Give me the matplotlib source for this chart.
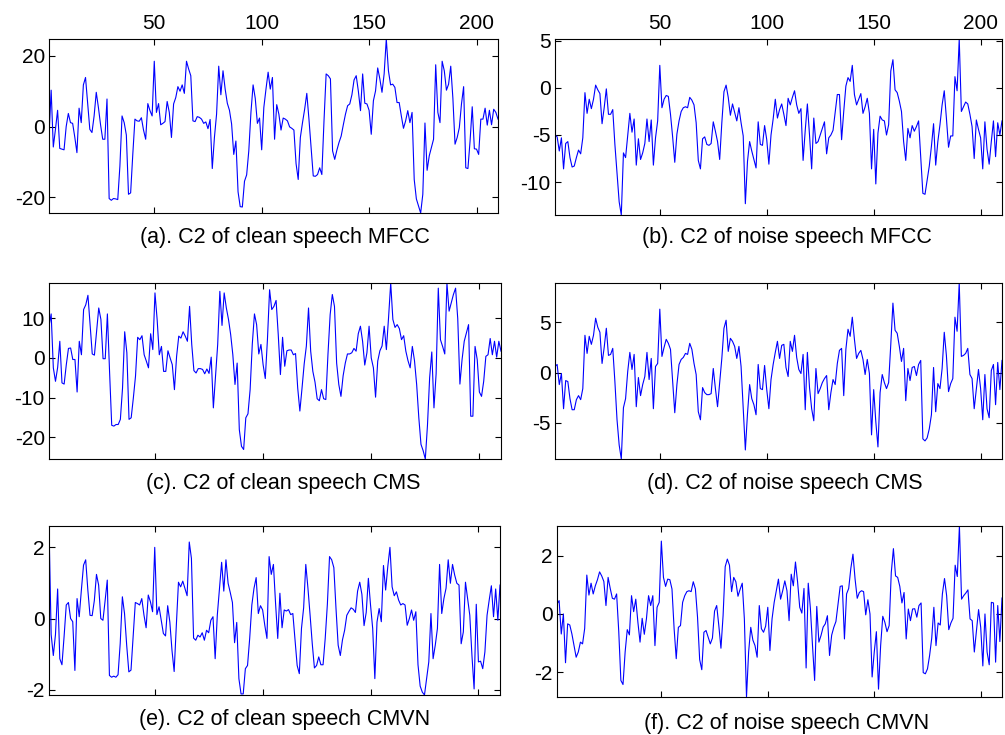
import numpy as np
import matplotlib
matplotlib.use("Agg")
import matplotlib.pyplot as plt

plt.rcParams['font.family'] = ['Liberation Sans', 'DejaVu Sans']
plt.rcParams['axes.unicode_minus'] = False

# second cepstral coefficient (C2) per frame
clean_mfcc = [
    -2.7, 10.3, -5.8, -0.8, 4.6, -6.2, -6.4, -6.6, 0.0, 3.7,
    1.1, 0.9, -3.0, -7.4, 5.2, 1.1, 11.8, 13.9, 6.4, -0.8,
    -1.7, 3.0, 9.7, 5.4, 0.5, -3.6, -3.6, 7.8, -20.4, -20.9,
    -20.4, -20.5, -20.7, -11.2, 3.0, 1.1, -2.4, -19.2, -18.8, -7.9,
    2.1, 1.6, 1.5, 2.5, -1.0, -3.6, 6.5, 4.5, 3.0, 18.5,
    4.0, 6.5, 0.5, 0.9, 1.4, 7.1, 4.0, -3.1, 6.4, 8.2,
    11.3, 10.0, 11.8, 9.4, 18.5, 16.3, 14.4, 1.6, 1.4, 2.8,
    2.6, 2.1, 0.9, 1.3, -0.6, 2.0, -11.9, -3.1, 3.5, 17.1,
    9.0, 15.8, 10.6, 6.6, 4.6, 0.7, -7.9, -4.1, -18.5, -22.7,
    -22.8, -15.5, -13.7, -6.9, 4.0, 11.8, 8.0, 0.9, 2.4, -6.6,
    5.4, 10.6, 15.4, 10.6, 13.9, -3.6, 6.2, 3.5, -1.0, 2.4,
    2.1, 1.6, -0.1, -0.5, -1.0, -10.5, -15.0, -3.1, 1.1, 4.9,
    9.4, 2.1, -6.0, -14.0, -14.1, -13.6, -11.7, -13.6, 1.5, 14.9,
    14.4, 13.5, -6.9, -9.3, -6.7, -4.5, -2.7, 0.5, 3.5, 5.9,
    6.4, 9.0, 13.2, 14.4, 10.0, 4.5, 14.9, 6.6, 6.4, 4.6,
    -2.2, 7.3, 10.1, 16.6, 13.5, 9.7, 14.9, 24.8, 15.8, 11.8,
    12.0, 11.1, 6.8, 6.8, 3.0, -0.5, 1.6, 4.5, 1.1, 4.0,
    -15.0, -20.5, -22.5, -24.5, -19.2, 1.0, -12.4, -8.3, -6.0, -3.6,
    17.5, 4.0, 1.1, 18.5, 15.8, 10.3, 12.0, 17.1, 8.0, -5.0,
    -3.1, -0.3, 6.4, 11.3, -11.7, -11.9, -4.1, 5.6, -6.3, -6.4,
    -7.9, 2.1, 2.1, 5.2, 0.4, 4.6, 0.5, 4.9, 4.0, 2.1,
]

noise_mfcc = [
    -5.0, -5.2, -6.7, -5.3, -8.6, -5.9, -5.7, -7.4, -8.4, -8.3,
    -7.4, -6.6, -7.0, -5.3, -0.5, -2.7, -1.2, -2.2, -1.2, 0.3,
    -0.2, -0.6, -3.8, -2.1, -0.1, -2.8, -2.8, -2.3, -6.0, -9.0,
    -12.1, -13.5, -6.9, -7.4, -5.0, -2.7, -4.7, -3.3, -8.2, -5.4,
    -7.6, -6.9, -5.9, -3.3, -5.7, -3.4, -8.2, -5.3, -3.5, 2.4,
    -2.1, -1.2, -0.8, -0.9, -2.8, -5.2, -7.9, -4.9, -3.5, -2.5,
    -2.1, -2.0, -2.1, -1.0, -1.3, -1.8, -3.7, -7.7, -8.6, -5.4,
    -5.2, -6.0, -6.1, -5.9, -3.6, -4.6, -5.7, -7.6, -3.7, -0.4,
    0.3, -1.0, -2.9, -1.7, -2.6, -3.5, -2.1, -3.7, -5.1, -12.3,
    -7.8, -5.7, -6.7, -7.6, -8.5, -3.6, -6.0, -6.1, -4.0, -5.5,
    -8.1, -5.0, -3.3, -1.2, -3.2, -2.3, -1.7, -2.8, -4.0, -1.1,
    -1.8, -1.0, -0.3, -1.8, -2.7, -2.2, -7.7, -4.5, -1.7, -5.0,
    -8.6, -3.2, -5.9, -5.7, -5.0, -4.3, -3.6, -7.0, -5.3, -5.0,
    -4.5, -2.6, -0.7, -0.7, -5.5, -2.5, 0.2, 1.1, 0.7, 2.4,
    -0.7, -1.8, -1.2, -0.6, -2.7, -2.0, -1.1, -2.7, -8.6, -4.4,
    -10.2, -4.8, -3.0, -3.4, -3.5, -5.0, -3.9, 1.8, 3.0, -0.2,
    -0.5, -1.4, -2.5, -5.7, -7.7, -4.3, -5.3, -4.0, -4.6, -4.1,
    -3.5, -7.4, -11.2, -11.3, -9.8, -8.3, -6.2, -3.8, -8.2, -5.7,
    -3.9, -1.8, -0.3, -3.2, -6.3, -5.1, -5.1, 1.2, -0.3, 5.2,
    -2.5, -2.0, -1.5, -1.7, -2.8, -4.1, -7.5, -3.4, -4.4, -5.3,
    -8.6, -3.6, -6.5, -8.1, -5.7, -3.5, -7.3, -3.7, -5.0, -3.5,
]

clean_cms = [
    8.0, 11.1, -2.5, -5.9, -2.4, 4.2, -6.3, -6.6, -1.7, 2.4,
    2.5, -0.4, -0.4, -8.6, 4.2, 0.8, 12.2, 13.4, 15.8, 8.4,
    1.0, 0.7, 6.7, 12.6, 9.7, -0.2, -0.2, 11.1, -3.4, -17.0,
    -17.2, -16.8, -16.8, -15.5, -7.6, 6.6, 1.3, -15.5, -15.1, -10.1,
    -4.6, 5.2, 4.6, 5.6, 0.8, -0.8, -2.5, 6.1, 2.1, 16.4,
    9.7, 0.8, 2.9, -3.4, -3.4, 1.8, 0.0, -1.7, -8.0, 0.4,
    5.5, 5.0, 6.6, 5.5, 4.2, 13.0, 3.4, -3.2, -3.8, -2.7,
    -2.7, -2.9, -4.0, -2.8, -3.9, 0.2, -12.6, -4.6, 3.4, 16.8,
    8.2, 16.4, 12.6, 9.7, 5.9, 0.8, -6.7, -1.3, -18.1, -22.3,
    -23.1, -15.1, -14.1, -8.0, 3.5, 11.1, 8.4, 1.0, 3.4, -1.7,
    -5.2, 4.6, 17.2, 12.2, 13.0, 14.5, 5.9, -4.2, 5.2, -2.1,
    1.8, 2.0, 2.0, 0.8, 1.1, -7.6, -13.4, -7.6, -1.5, 3.0,
    12.6, 1.7, -3.4, -6.1, -10.3, -10.8, -8.0, -10.3, -10.5, 1.0,
    10.9, 16.0, 13.0, -1.3, -6.7, -9.7, -4.5, -1.3, 1.0, 1.0,
    1.3, 2.4, 1.7, 6.1, 8.0, 4.2, -1.8, 1.3, 8.0, 0.0,
    -2.5, -9.9, -0.8, 1.8, 3.0, 8.0, 2.1, 10.1, 18.9, 9.7,
    7.7, 8.4, 7.4, 4.6, 5.6, 1.7, -0.7, -2.5, 2.9, -0.7,
    -6.7, -15.1, -21.8, -23.4, -25.5, -17.0, -5.0, 1.5, -12.6, -4.0,
    17.6, 4.6, 2.9, 1.0, 18.9, 11.8, 13.9, 16.0, 17.6, 9.9,
    -6.6, -0.4, 4.2, 6.3, 8.4, -14.7, -14.7, 2.9, -0.4, -8.6,
    -9.7, -5.9, 0.4, 0.8, 4.9, 0.8, 4.2, 0.2, 4.2, 1.7,
]

noise_cms = [
    0.6, 0.8, -1.2, -0.1, -3.6, -0.8, -0.9, -2.6, -3.7, -3.7,
    -2.7, -2.3, -2.7, -1.6, 3.7, 1.9, 3.6, 2.8, 3.7, 5.4,
    4.5, 4.0, 0.9, 2.5, 4.4, 1.7, 1.8, 2.4, -0.9, -4.7,
    -7.2, -8.6, -3.5, -2.6, 0.1, 2.0, 0.3, 1.8, -3.4, -0.5,
    -2.3, -1.2, -0.4, 2.0, -0.7, 1.4, -3.6, 0.6, 0.9, 6.3,
    1.6, 2.5, 3.3, 2.9, 2.3, -0.8, -4.0, -1.2, 0.8, 1.3,
    1.5, 1.9, 1.8, 2.9, 2.3, 0.9, -0.2, -3.9, -4.7, -1.5,
    -2.0, -2.2, -2.2, -2.1, 0.4, -1.6, -3.4, -1.0, 1.4, 4.4,
    5.2, 2.1, 3.4, 3.1, 2.6, 1.4, 2.6, 0.6, -3.6, -7.7,
    -4.1, -1.2, -2.6, -3.2, -4.2, 0.8, -1.6, -1.7, 0.7, -1.7,
    -3.6, -0.7, 0.8, 2.0, 3.1, 1.4, 2.7, 2.8, 0.5, -0.4,
    3.1, 2.1, 3.7, 1.5, 0.3, -0.1, 1.8, -3.7, 2.0, -1.5,
    -3.6, -4.8, 0.4, -2.1, -1.6, -1.0, -0.6, -0.3, -3.7, -2.0,
    -0.7, -1.2, 0.9, 2.2, 2.4, -2.3, 2.3, 4.3, 3.6, 5.5,
    3.3, 1.4, 1.9, 2.2, 1.3, -0.2, 1.3, -0.1, -6.2, -1.7,
    -4.9, -7.4, -2.0, -0.2, -1.0, -1.6, -1.0, 2.8, 6.9, 4.2,
    3.9, 2.6, 1.1, 2.4, -2.8, 0.4, -0.8, 0.5, 0.6, -0.3,
    0.8, 1.2, -6.6, -6.8, -6.5, -5.6, -4.2, 0.5, -3.9, -1.1,
    -1.6, 0.4, 4.0, 1.7, -1.9, -1.1, -0.6, 5.5, 4.1, 8.9,
    1.6, 1.7, 1.9, 2.4, -0.2, -0.6, -3.6, -1.6, 0.3, -1.6,
    -4.7, -0.2, -3.6, -4.5, 0.2, 0.8, -3.2, 1.0, -1.7, 1.2,
]

clean_cmvn = [
    2.6, -0.45, -1.04, -0.45, 0.83, -1.13, -1.3, -0.5, 0.38, 0.45,
    0.0, -0.09, -1.46, 0.56, 0.05, 0.8, 1.5, 1.65, 0.8, 0.09,
    0.08, 0.5, 1.24, 0.94, 0.0, -0.05, 0.5, 1.08, -1.6, -1.65,
    -1.62, -1.65, -1.58, -0.7, 0.61, 0.14, -0.75, -1.5, -1.45, -0.5,
    0.45, 0.42, 0.38, 0.56, 0.1, -0.26, 0.66, 0.47, 0.19, 2.0,
    0.11, 0.33, -0.05, -0.42, -0.49, 0.36, -0.1, -0.9, -1.49, -0.2,
    1.02, 0.89, 1.05, 0.85, 0.64, 2.15, 1.69, -0.55, -0.61, -0.47,
    -0.52, -0.4, -0.61, -0.33, -0.4, -0.05, 0.05, -1.13, 0.1, 0.85,
    1.58, 0.77, 1.65, 0.99, 0.73, 0.45, -0.68, -0.11, -1.69, -2.12,
    -2.12, -1.41, -1.32, -0.56, 0.38, 0.85, 1.15, 0.14, 0.36, 0.24,
    -0.19, -0.56, 1.74, 1.24, 1.52, 0.42, -0.56, 0.71, -0.26, 0.24,
    0.21, 0.25, 0.11, 0.14, -0.6, -1.32, -1.55, -0.28, 0.3, 1.52,
    0.85, 0.09, -0.71, -1.39, -1.32, -1.08, -1.3, -1.3, -0.56, 0.4,
    1.74, 1.65, 1.43, 0.28, -0.75, -1.04, -0.6, -0.33, 0.09, 0.2,
    0.3, 0.26, 0.17, 0.77, 1.02, 0.68, -0.2, 0.17, 1.13, 0.38,
    -0.28, -1.69, -0.1, 0.28, -0.09, 1.49, 0.8, 1.46, 2.0, 0.89,
    0.64, 0.75, 0.52, 0.38, 0.42, 0.38, -0.19, 0.0, 0.24, -0.05,
    0.19, -1.3, -1.9, -2.07, -2.15, -1.69, -1.22, 0.14, -1.13, -0.75,
    -0.28, 1.52, 0.14, 0.56, 0.85, 1.65, 0.99, 1.52, 1.22, 0.99,
    0.94, -0.71, -0.38, 1.02, 0.56, 0.09, -1.04, -1.98, 0.4, -1.22,
    -1.2, -1.41, -0.94, 0.09, 0.52, 0.92, 0.05, 0.83, -0.05, 0.94,
]

noise_cmvn = [
    0.34, 0.46, -0.69, 0.0, -1.68, -0.34, -0.38, -0.69, -1.09, -1.49,
    -1.31, -0.97, -1.03, -0.5, 1.34, 0.65, 1.06, 0.69, 0.97, 1.18,
    1.45, 1.31, 1.12, 0.29, 1.26, 0.88, 0.54, 0.51, 0.69, -0.6,
    -2.29, -2.43, -1.31, -0.54, -0.72, 0.63, 0.08, 0.51, -0.29, -0.97,
    -0.15, -0.7, -0.17, 0.63, 0.29, 0.63, -1.09, 0.23, 0.4, 2.51,
    1.26, 0.95, 1.2, 1.18, 0.86, -0.5, -1.54, -0.46, -0.4, 0.4,
    0.63, 0.77, 0.8, 0.77, 1.11, 0.86, -0.11, -1.57, -1.92, -0.63,
    -0.57, -0.8, -1.03, -0.83, 0.1, 0.29, -0.4, -1.18, -0.06, 1.63,
    1.89, 1.68, 0.77, 1.26, 1.11, 0.61, 0.85, 1.06, -0.17, -2.86,
    -1.31, -0.46, -0.9, -1.09, -1.49, 0.29, -0.51, -0.63, -0.42, 0.23,
    -1.26, -0.17, 0.4, 0.8, 1.2, 0.51, 0.8, 1.14, 0.8, -0.23,
    1.37, 0.97, 1.79, 1.1, 0.23, 0.03, 0.88, -1.86, 1.06, 0.2,
    -1.09, -2.29, 0.26, -0.97, -0.74, -0.45, -0.34, -0.06, -1.43, -0.73,
    -0.46, -0.26, 0.34, 0.95, 0.97, -0.86, 0.69, 0.88, 1.57, 2.06,
    1.2, 0.54, 0.74, 0.8, 0.77, -0.03, 0.49, 0.0, -2.17, -1.31,
    -0.61, -2.59, -1.09, -0.08, -0.29, -0.61, -0.4, 1.43, 2.25, 1.31,
    1.26, 0.95, 0.38, 0.74, -0.86, 0.17, -0.23, 0.17, 0.18, -0.11,
    0.29, 0.38, -2.02, -2.06, -1.89, -1.43, -0.83, 0.23, -1.09, -0.31,
    -0.38, 0.69, 1.22, 0.63, -0.54, -0.31, -0.15, 1.68, 1.29, 3.03,
    0.51, 0.63, 0.72, 0.83, -0.17, -0.23, -1.31, -0.57, 0.15, -0.46,
    -1.79, 0.0, -1.31, -1.75, 0.4, 0.38, -1.66, 0.29, -0.95, 0.55,
]

x_ticks = [50, 100, 150, 200]

W, H = 1005, 735
fig = plt.figure(figsize=(W / 100, H / 100), dpi=100)


def box(l, t, r, b):
    # pixel box -> figure fraction
    return [l / W, 1 - b / H, (r - l) / W, (b - t) / H]


panels = [
    (clean_mfcc, [-20, 0, 20], "(a). C2 of clean speech MFCC", box(49, 39, 498, 213), 285, 237),
    (noise_mfcc, [-10, -5, 0, 5], "(b). C2 of noise speech MFCC", box(555, 39, 1002, 215), 787, 238),
    (clean_cms, [-20, -10, 0, 10], "(c). C2 of clean speech CMS", box(49, 283, 501, 459), 283, 483),
    (noise_cms, [-5, 0, 5], "(d). C2 of noise speech CMS", box(555, 283, 1002, 459), 785, 483),
    (clean_cmvn, [-2, 0, 2], "(e). C2 of clean speech CMVN", box(49, 526, 500, 695), 285, 719),
    (noise_cmvn, [-2, 0, 2], "(f). C2 of noise speech CMVN", box(557, 526, 1002, 697), 787, 723),
]

for i, (y, yt, caption, pos, cx, cy) in enumerate(panels):
    ax = fig.add_axes(pos)
    frames = np.arange(1, len(y) + 1)
    ax.plot(frames, y, color='#0000ff', lw=0.8)
    ax.set_xlim(1, len(y))
    ax.set_ylim(min(y), max(y))
    ax.set_xticks(x_ticks)
    ax.set_yticks(yt)
    ax.tick_params(direction='in', length=4, width=0.8, top=True, right=True,
                   labelsize=15, pad=3)
    ax.tick_params(axis='x', labelbottom=False, labeltop=(i < 2), pad=4)
    for s in ax.spines.values():
        s.set_linewidth(0.8)
    fig.text(cx / W, 1 - cy / H, caption, ha='center', va='center', fontsize=15.5)

fig.savefig("out.png", dpi=100)
